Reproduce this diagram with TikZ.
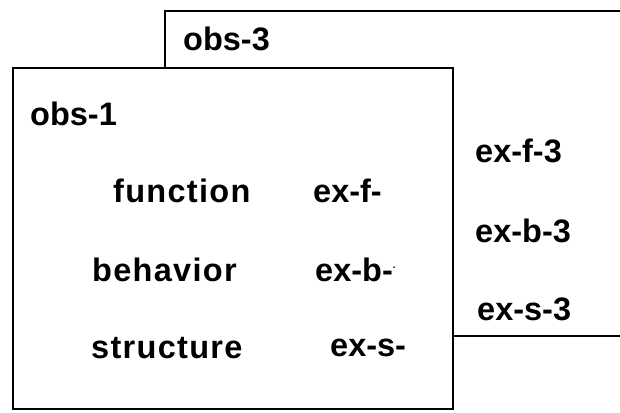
\documentclass[tikz,border=0pt]{standalone}
\usepackage{fontspec}
\setmainfont{Liberation Sans}
\begin{document}
\begin{tikzpicture}[x=1pt,y=-1pt,
  frame/.style={draw=black,line width=2pt,fill=white},
  lbl/.style={anchor=base west,inner sep=0pt,font=\fontsize{32.5}{36}\selectfont\bfseries},
  wide/.style={lbl,font=\fontsize{32.5}{36}\selectfont\bfseries\addfontfeature{LetterSpace=4}}]
\useasboundingbox (0,0) rectangle (620,412);
\begin{scope}
\clip (0,0) rectangle (620,412);
\draw[frame] (165,11) rectangle (640,336);
\end{scope}
\draw[frame] (13,68) rectangle (453,409);
\node[lbl] (obs3) at (183,50) {obs-3};
\node[lbl] (obs1) at (30,125) {obs-1};
\node[wide] (fun) at (113,202) {function};
\node[wide] (beh) at (92,281) {behavior};
\node[wide] (str) at (91,358) {structure};
\node[lbl] (exf) at (313,202) {ex-f-};
\node[lbl] (exb) at (315,281) {ex-b-{\fontsize{10}{10}\selectfont\raisebox{13pt}{.}}};
\node[lbl] (exs) at (330,356) {ex-s-};
\node[lbl] (exf3) at (475,162) {ex-f-3};
\node[lbl] (exb3) at (475,242) {ex-b-3};
\node[lbl] (exs3) at (477,320) {ex-s-3};
\end{tikzpicture}
\end{document}
